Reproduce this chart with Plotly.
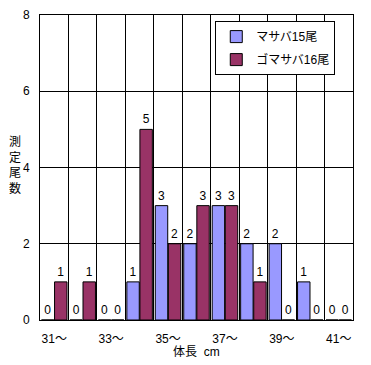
import plotly.graph_objects as go

lengths = [31, 32, 33, 34, 35, 36, 37, 38, 39, 40, 41]
masaba = [0, 0, 0, 1, 3, 2, 3, 2, 2, 1, 0]
gomasaba = [1, 1, 0, 5, 2, 3, 3, 1, 0, 0, 0]
series_names = ["マサバ15尾", "ゴマサバ16尾"]
tick_lengths = [31, 33, 35, 37, 39, 41]
tick_labels = [f"{v}～" for v in tick_lengths]

FONT = "Liberation Sans, Noto Sans CJK JP, sans-serif"

fig = go.Figure()
fig.add_trace(go.Bar(x=lengths, y=masaba, name=series_names[0], legendgroup="a",
                     marker=dict(color="#9999FF", line=dict(color="black", width=1)),
                     text=masaba, textposition="outside", cliponaxis=False,
                     textfont=dict(size=12, color="black")))
fig.add_trace(go.Bar(x=lengths, y=gomasaba, name=series_names[1], legendgroup="b",
                     marker=dict(color="#993366", line=dict(color="black", width=1)),
                     text=gomasaba, textposition="outside", cliponaxis=False,
                     textfont=dict(size=12, color="black")))

# page body has an 8px margin, so the figure is sized/offset to compensate
fig.update_layout(
    width=363, height=357,
    margin=dict(l=32, r=18, t=7, b=45, autoexpand=False),
    paper_bgcolor="white", plot_bgcolor="white",
    font=dict(family=FONT, size=12, color="black"),
    barmode="group", bargap=0.08, bargroupgap=0.05,
    showlegend=True,
    legend=dict(x=0.56, y=0.98, xanchor="left", yanchor="top",
                bordercolor="black", borderwidth=1, bgcolor="white",
                font=dict(size=12), tracegroupgap=4, traceorder="grouped"),
    xaxis=dict(range=[min(lengths) - 0.5, max(lengths) + 0.5],
               tickvals=tick_lengths, ticktext=tick_labels, automargin=False,
               showgrid=False, ticks="", showline=True, linecolor="black",
               mirror=True, zeroline=False, ticklabelstandoff=8,
               minor=dict(tick0=30.5, dtick=1, showgrid=True, gridcolor="black", gridwidth=1)),
    yaxis=dict(range=[0, 8], dtick=2, showgrid=True, gridcolor="black", gridwidth=1,
               automargin=False,
               ticks="", showline=True, linecolor="black", mirror=True, zeroline=False,
               ticklabelstandoff=7),
    annotations=[
        dict(text="測<br>定<br>尾<br>数", x=-0.081, y=0.505, xref="paper", yref="paper",
             showarrow=False, font=dict(size=12), xanchor="center", yanchor="middle"),
        dict(text="体長  cm", x=0.5, y=-0.105, xref="paper", yref="paper",
             showarrow=False, font=dict(size=12), xanchor="center", yanchor="middle"),
    ],
)

fig.write_html("out.html")
